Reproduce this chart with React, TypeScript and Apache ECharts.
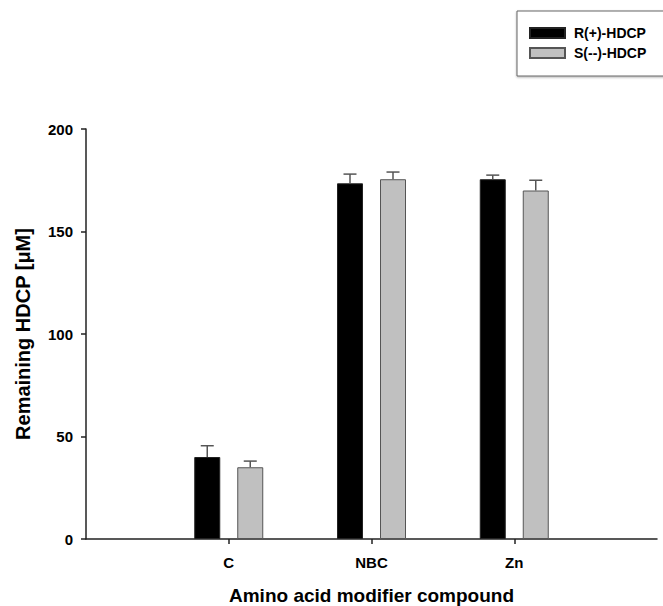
import React, { useEffect, useRef } from "react";
import * as echarts from "echarts";

const categories = ["C", "NBC", "Zn"];
const seriesNames = ["R(+)-HDCP", "S(--)-HDCP"];
const rValues = [40, 173.5, 175.5];
const rErrors = [5.5, 4.5, 2];
const sValues = [35, 175.5, 170];
const sErrors = [3, 3.5, 5];
const yTicks = { min: 0, max: 200, interval: 50 };

const FONT = "'Liberation Sans', Arial, sans-serif";

export default function App() {
  const ref = useRef<HTMLDivElement>(null);
  useEffect(() => {
    document.body.style.margin = "0";
    if (!ref.current) return;
    const chart = echarts.init(ref.current, undefined, { renderer: "svg" });
    const axisCats = ["", ...categories, ""];
    const pad = (arr: number[]) => [null, ...arr, null];
    const barWidth = 26;
    const gapPx = 17;
    const offset = (barWidth + gapPx) / 2;
    const errData = (vals: number[], errs: number[]) =>
      vals.map((v, i) => [i + 1, v, errs[i]]);
    const errSeries = (name: string, vals: number[], errs: number[], dx: number) => ({
      type: "custom",
      name: name + " err",
      z: 5,
      silent: true,
      renderItem: (params: any, api: any) => {
        const c = api.value(0);
        const m = api.value(1);
        const e = api.value(2);
        const p0 = api.coord([c, m]);
        const p1 = api.coord([c, m + e]);
        const x = p0[0] + dx;
        const st = { stroke: "#555", lineWidth: 1.5 };
        return {
          type: "group",
          children: [
            { type: "line", shape: { x1: x, y1: p0[1], x2: x, y2: p1[1] }, style: st },
            { type: "line", shape: { x1: x - 6.5, y1: p1[1], x2: x + 6.5, y2: p1[1] }, style: st },
          ],
        };
      },
      data: errData(vals, errs),
      encode: { x: 0, y: 1 },
    });

    chart.setOption({
      animation: false,
      backgroundColor: "#fff",
      textStyle: { fontFamily: FONT },
      graphic: [
        {
          type: "rect",
          shape: { x: 517, y: 11, width: 170, height: 65 },
          style: { fill: "#fff", stroke: "#666", lineWidth: 1, shadowBlur: 2, shadowColor: "rgba(0,0,0,0.3)", shadowOffsetY: 1 },
          z: -1,
        },
      ],
      legend: {
        orient: "vertical",
        left: 529,
        top: 26,
        padding: 0,
        itemWidth: 35,
        itemHeight: 10,
        itemGap: 6,
        icon: "rect",
        data: seriesNames,
        textStyle: { fontFamily: FONT, fontWeight: "bold", fontSize: 14, color: "#000", padding: [0, 0, 0, 4] },
      },
      grid: { left: 86, right: 6, top: 129, bottom: 67, containLabel: false, outerBoundsMode: "none" },
      xAxis: {
        type: "category",
        data: axisCats,
        boundaryGap: false,
        name: "Amino acid modifier compound",
        nameLocation: "middle",
        nameGap: 47,
        nameTextStyle: { fontFamily: FONT, fontWeight: "bold", fontSize: 19, color: "#000" },
        axisLine: { lineStyle: { color: "#222", width: 1.5 } },
        axisTick: {
          length: 5,
          interval: (i: number) => i > 0 && i < axisCats.length - 1,
          lineStyle: { color: "#222", width: 1.5 },
        },
        axisLabel: { interval: 0, margin: 16, fontFamily: FONT, fontWeight: "bold", fontSize: 15, color: "#000" },
        splitLine: { show: false },
      },
      yAxis: {
        type: "value",
        min: yTicks.min,
        max: yTicks.max,
        interval: yTicks.interval,
        name: "Remaining HDCP [μM]",
        nameLocation: "middle",
        nameGap: 53,
        nameTextStyle: { fontFamily: FONT, fontWeight: "bold", fontSize: 20, color: "#000" },
        axisLine: { show: true, lineStyle: { color: "#222", width: 1.5 } },
        axisTick: { show: true, length: 5, lineStyle: { color: "#222", width: 1.5 } },
        axisLabel: { margin: 13, fontFamily: FONT, fontWeight: "bold", fontSize: 15, color: "#000" },
        splitLine: { show: false },
      },
      series: [
        {
          type: "bar",
          name: seriesNames[0],
          data: pad(rValues),
          barWidth,
          barGap: `${(gapPx / barWidth) * 100}%`,
          itemStyle: { color: "#000", borderColor: "#222", borderWidth: 1 },
        },
        {
          type: "bar",
          name: seriesNames[1],
          data: pad(sValues),
          barWidth,
          barGap: `${(gapPx / barWidth) * 100}%`,
          itemStyle: { color: "#c0c0c0", borderColor: "#555", borderWidth: 1 },
        },
        errSeries(seriesNames[0], rValues, rErrors, -offset),
        errSeries(seriesNames[1], sValues, sErrors, offset),
      ],
    });
    return () => chart.dispose();
  }, []);
  return <div ref={ref} style={{ width: 663, height: 606 }} />;
}
